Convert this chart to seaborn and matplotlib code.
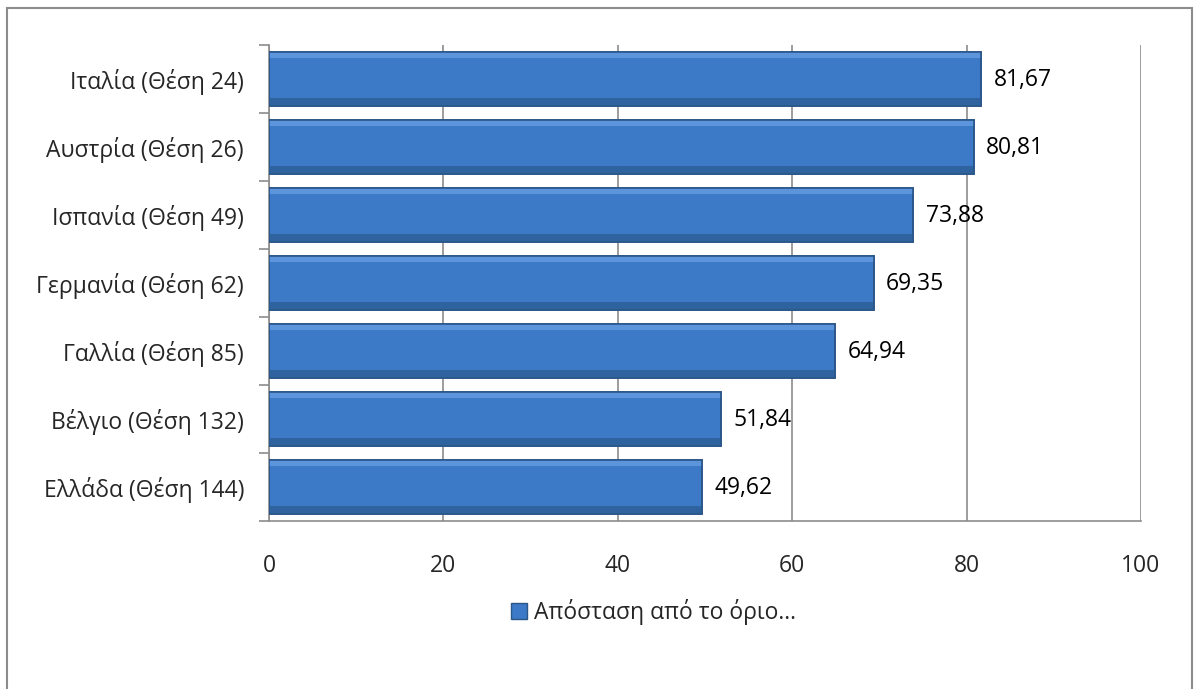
import matplotlib
matplotlib.use("Agg")
import matplotlib.pyplot as plt
import matplotlib.patches as mpatches
import pandas as pd
import seaborn as sns

# ── data ──────────────────────────────────────────────────────────────────────
countries = [
    "Ιταλία (Θέση 24)",
    "Αυστρία (Θέση 26)",
    "Ισπανία (Θέση 49)",
    "Γερμανία (Θέση 62)",
    "Γαλλία (Θέση 85)",
    "Βέλγιο (Θέση 132)",
    "Ελλάδα (Θέση 144)",
]
values = [81.67, 80.81, 73.88, 69.35, 64.94, 51.84, 49.62]
series_name = "Απόσταση από το όριο…"
x_ticks = [0, 20, 40, 60, 80, 100]

df = pd.DataFrame({"country": countries, "value": values})

sns.set_theme(style="white")
plt.rcParams["font.family"] = ["Open Sans", "DejaVu Sans"]

BAR = "#3C79C7"
EDGE = "#2A5688"
GRID = "#8C8C8C"
FS = 16.5

fig = plt.figure(figsize=(11.99, 6.89), dpi=100)
ax = fig.add_axes([0.2244, 0.2438, 0.7272, 0.6909])

sns.barplot(data=df, x="value", y="country", orient="h", color=BAR,
            width=0.78, edgecolor=EDGE, linewidth=1.2, saturation=1,
            ax=ax, label=series_name, zorder=3)

# soft shading: lighter top band, darker bottom band
for p in list(ax.patches):
    x0, y0 = p.get_x(), p.get_y()
    w, h = p.get_width(), p.get_height()
    ax.add_patch(mpatches.Rectangle((x0, y0), w, h * 0.10, color="#5C95DC",
                                    lw=0, zorder=4))
    ax.add_patch(mpatches.Rectangle((x0, y0 + h * 0.85), w, h * 0.15,
                                    color="#2F639F", lw=0, zorder=4))
    ax.add_patch(mpatches.Rectangle((x0, y0), w, h, fill=False,
                                    edgecolor=EDGE, lw=1.2, zorder=5))

for i, v in enumerate(values):
    ax.annotate(f"{v:.2f}".replace(".", ","), (v, i), xytext=(9, -1),
                textcoords="offset points", va="center", ha="left",
                fontsize=FS, color="black", zorder=6)

ax.set_xlim(0, 100)
ax.set_ylim(len(countries) - 0.5, -0.5)
ax.set_xticks(x_ticks)
ax.set_xticklabels([str(t) for t in x_ticks], fontsize=FS)
ax.tick_params(axis="x", length=0, pad=24)
ax.set_yticks([i - 0.5 for i in range(len(countries) + 1)], minor=True)
ax.set_yticks(range(len(countries)))
ax.set_yticklabels(countries, fontsize=FS)
ax.tick_params(axis="y", which="major", length=0, pad=18)
ax.tick_params(axis="y", which="minor", length=7, width=1.2, color=GRID,
               direction="out", left=True)
ax.set_xlabel("")
ax.set_ylabel("")

ax.grid(axis="x", color=GRID, linewidth=1.2, zorder=0)
for s in ["top", "right"]:
    ax.spines[s].set_visible(False)
for s in ["left", "bottom"]:
    ax.spines[s].set_color(GRID)
    ax.spines[s].set_linewidth(1.2)

handle = mpatches.Patch(facecolor=BAR, edgecolor=EDGE, label=series_name)
ax.legend(handles=[handle], loc="center", bbox_to_anchor=(0.545, 0.112),
          bbox_transform=fig.transFigure, frameon=False, fontsize=FS,
          handlelength=0.7, handleheight=0.7, handletextpad=0.3)

# chart frame
fig.patches.append(mpatches.Rectangle((0.006, -0.01), 0.988, 0.998,
                                      transform=fig.transFigure, fill=False,
                                      edgecolor="#8C8C8C", linewidth=1.5))

fig.savefig("out.png", dpi=100)
